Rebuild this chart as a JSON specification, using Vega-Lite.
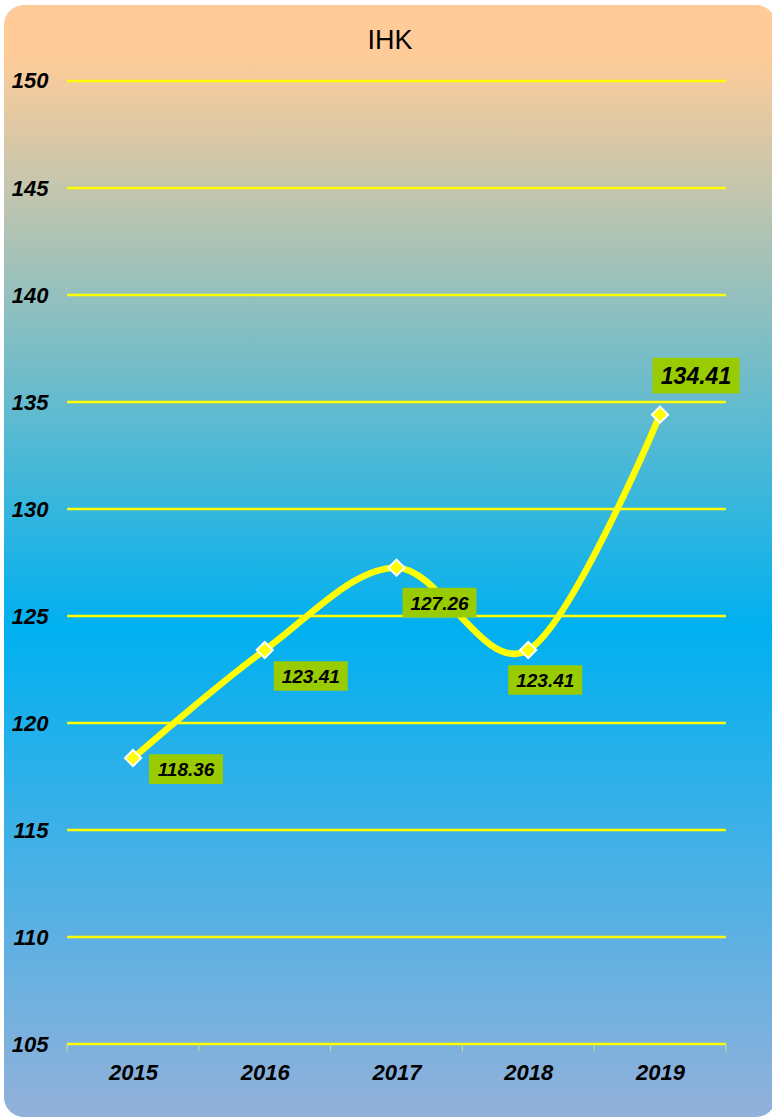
{
  "$schema": "https://vega.github.io/schema/vega-lite/v6.json",
  "width": 772,
  "height": 1112,
  "autosize": {"type": "none"},
  "padding": {"left": 4, "top": 5, "right": 0, "bottom": 0},
  "background": "white",
  "config": {
    "view": {
      "stroke": null,
      "cornerRadius": 20,
      "fill": {
        "gradient": "linear",
        "x1": 0, "y1": 0, "x2": 0, "y2": 1,
        "stops": [
          {"offset": 0, "color": "#FFCC99"},
          {"offset": 0.045, "color": "#FFCC99"},
          {"offset": 0.56, "color": "#00B0F0"},
          {"offset": 1, "color": "#93B1DA"}
        ]
      }
    }
  },
  "title": {
    "text": "IHK",
    "font": "Liberation Sans",
    "fontSize": 27,
    "fontWeight": "normal",
    "color": "black",
    "anchor": "middle",
    "offset": -71,
    "baseline": "alphabetic"
  },
  "layer": [
    {
      "data": {"values": [
        {"level": 105}, {"level": 110}, {"level": 115}, {"level": 120}, {"level": 125},
        {"level": 130}, {"level": 135}, {"level": 140}, {"level": 145}, {"level": 150}
      ]},
      "mark": {"type": "rule", "color": "#FFFF00", "strokeWidth": 2.5},
      "encoding": {
        "y": {"field": "level", "type": "quantitative", "scale": {"type": "linear", "domain": [101.5888, 153.5514], "nice": false, "zero": false},
          "axis": {
            "orient": "left",
            "values": [105, 110, 115, 120, 125, 130, 135, 140, 145, 150],
            "offset": -44,
            "grid": false,
            "domain": false,
            "ticks": false,
            "labelPadding": 0,
            "labelBaseline": "middle",
            "labelOverlap": false,
            "labelFlush": false,
            "labelFont": "Liberation Sans",
            "labelFontSize": 22,
            "labelFontStyle": "italic",
            "labelFontWeight": "bold",
            "labelColor": "black",
            "title": null
          }},
        "x": {"datum": 2014.5, "type": "quantitative", "scale": {"type": "linear", "domain": [2014.0209, 2019.8805], "nice": false, "zero": false},
          "axis": {
            "orient": "bottom",
            "values": [2015, 2016, 2017, 2018, 2019],
            "format": "d",
            "offset": -73,
            "grid": false,
            "domain": false,
            "ticks": false,
            "labelPadding": 28,
            "labelBaseline": "middle",
            "labelFlush": false,
            "labelOverlap": false,
            "labelFont": "Liberation Sans",
            "labelFontSize": 22,
            "labelFontStyle": "italic",
            "labelFontWeight": "bold",
            "labelColor": "black",
            "title": null
          }},
        "x2": {"datum": 2019.5}
      }
    },
    {
      "data": {"values": [
        {"edge": 2014.5}, {"edge": 2015.5}, {"edge": 2016.5}, {"edge": 2017.5}, {"edge": 2018.5}, {"edge": 2019.5}
      ]},
      "mark": {"type": "rule", "color": "#D8DE8A", "strokeWidth": 1},
      "encoding": {
        "x": {"field": "edge", "type": "quantitative"},
        "y": {"datum": 104.66, "type": "quantitative"},
        "y2": {"datum": 105}
      }
    },
    {
      "data": {
        "name": "main",
        "values": [
          {"year": 2015, "value": 118.36},
          {"year": 2016, "value": 123.41},
          {"year": 2017, "value": 127.26},
          {"year": 2018, "value": 123.41},
          {"year": 2019, "value": 134.41}
        ]
      },
      "encoding": {
        "x": {"field": "year", "type": "quantitative"},
        "y": {"field": "value", "type": "quantitative"}
      },
      "layer": [
        {
          "mark": {"type": "line", "color": "#FFFF00", "strokeWidth": 6.5, "interpolate": "cardinal"}
        },
        {
          "mark": {"type": "point", "shape": "diamond", "filled": true, "fill": "#FFFF00", "stroke": "white", "strokeWidth": 2, "size": 260, "opacity": 1}
        },
        {
          "transform": [{"filter": "datum.year == 2015"}],
          "layer": [
            {"mark": {"type": "point", "shape": "M-1,-0.4L1,-0.4L1,0.4L-1,0.4Z", "filled": true, "fill": "#99CC00", "strokeWidth": 0, "opacity": 1, "size": 5476, "xOffset": 53, "yOffset": 11}},
            {"mark": {"type": "text", "font": "Liberation Sans", "fontStyle": "italic", "fontWeight": "bold", "fontSize": 19, "color": "black", "align": "center", "baseline": "middle", "xOffset": 53, "yOffset": 12},
             "encoding": {"text": {"field": "value", "type": "quantitative", "format": ".2f"}}}
          ]
        },
        {
          "transform": [{"filter": "datum.year == 2016"}],
          "layer": [
            {"mark": {"type": "point", "shape": "M-1,-0.4L1,-0.4L1,0.4L-1,0.4Z", "filled": true, "fill": "#99CC00", "strokeWidth": 0, "opacity": 1, "size": 5476, "xOffset": 46, "yOffset": 26}},
            {"mark": {"type": "text", "font": "Liberation Sans", "fontStyle": "italic", "fontWeight": "bold", "fontSize": 19, "color": "black", "align": "center", "baseline": "middle", "xOffset": 46, "yOffset": 27},
             "encoding": {"text": {"field": "value", "type": "quantitative", "format": ".2f"}}}
          ]
        },
        {
          "transform": [{"filter": "datum.year == 2017"}],
          "layer": [
            {"mark": {"type": "point", "shape": "M-1,-0.4L1,-0.4L1,0.4L-1,0.4Z", "filled": true, "fill": "#99CC00", "strokeWidth": 0, "opacity": 1, "size": 5476, "xOffset": 43, "yOffset": 35}},
            {"mark": {"type": "text", "font": "Liberation Sans", "fontStyle": "italic", "fontWeight": "bold", "fontSize": 19, "color": "black", "align": "center", "baseline": "middle", "xOffset": 43, "yOffset": 36},
             "encoding": {"text": {"field": "value", "type": "quantitative", "format": ".2f"}}}
          ]
        },
        {
          "transform": [{"filter": "datum.year == 2018"}],
          "layer": [
            {"mark": {"type": "point", "shape": "M-1,-0.4L1,-0.4L1,0.4L-1,0.4Z", "filled": true, "fill": "#99CC00", "strokeWidth": 0, "opacity": 1, "size": 5476, "xOffset": 17, "yOffset": 30}},
            {"mark": {"type": "text", "font": "Liberation Sans", "fontStyle": "italic", "fontWeight": "bold", "fontSize": 19, "color": "black", "align": "center", "baseline": "middle", "xOffset": 17, "yOffset": 31},
             "encoding": {"text": {"field": "value", "type": "quantitative", "format": ".2f"}}}
          ]
        },
        {
          "transform": [{"filter": "datum.year == 2019"}],
          "layer": [
            {"mark": {"type": "point", "shape": "M-1,-0.41L1,-0.41L1,0.41L-1,0.41Z", "filled": true, "fill": "#99CC00", "strokeWidth": 0, "opacity": 1, "size": 7569, "xOffset": 36, "yOffset": -39}},
            {"mark": {"type": "text", "font": "Liberation Sans", "fontStyle": "italic", "fontWeight": "bold", "fontSize": 23, "color": "black", "align": "center", "baseline": "middle", "xOffset": 36, "yOffset": -38},
             "encoding": {"text": {"field": "value", "type": "quantitative", "format": ".2f"}}}
          ]
        }
      ]
    }
  ]
}
